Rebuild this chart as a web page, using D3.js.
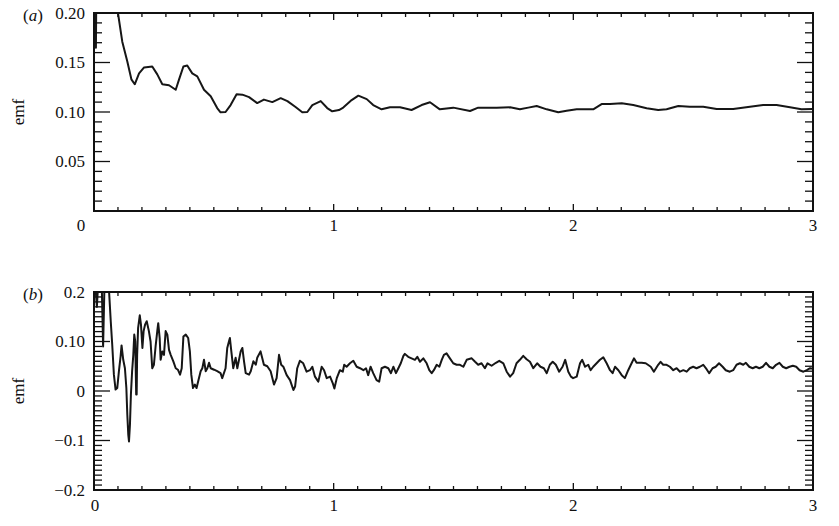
<!DOCTYPE html>
<html><head><meta charset="utf-8">
<script src="https://cdn.jsdelivr.net/npm/d3@7"></script>
<style>
body{margin:0;background:#fff}
svg text{font-family:"Liberation Serif","Times New Roman",Times,serif;fill:#111}
</style>
</head><body>
<svg id="c" width="839" height="526"></svg>
<script>
// ---- data (time, emf) ----
const panelATime = [0.004,0.008,0.012,0.05,0.100,0.118,0.139,0.156,0.170,0.188,0.209,0.243,0.264,0.285,0.313,0.341,0.355,0.373,0.389,0.410,0.431,0.459,0.487,0.514,0.528,0.549,0.570,0.595,0.619,0.647,0.681,0.709,0.744,0.779,0.807,0.841,0.869,0.890,0.911,0.946,0.973,0.994,1.022,1.040,1.075,1.103,1.138,1.165,1.200,1.235,1.277,1.325,1.367,1.402,1.443,1.499,1.569,1.603,1.680,1.736,1.777,1.812,1.847,1.889,1.937,1.972,2.014,2.083,2.118,2.153,2.202,2.250,2.306,2.354,2.389,2.438,2.486,2.542,2.598,2.667,2.737,2.792,2.848,2.904,2.952,3.0];
const panelAEmf  = [0.30,0.165,0.30,0.36,0.200,0.171,0.151,0.133,0.128,0.139,0.145,0.146,0.138,0.128,0.127,0.1225,0.133,0.146,0.147,0.139,0.136,0.1225,0.116,0.104,0.0997,0.100,0.107,0.118,0.1175,0.115,0.109,0.1125,0.110,0.114,0.111,0.105,0.0997,0.100,0.107,0.111,0.104,0.1007,0.102,0.1045,0.112,0.1165,0.113,0.107,0.1027,0.1047,0.1047,0.102,0.107,0.1098,0.1027,0.1044,0.101,0.1044,0.1044,0.1047,0.1027,0.1044,0.106,0.1027,0.0997,0.1013,0.1027,0.1027,0.108,0.108,0.1088,0.107,0.1037,0.102,0.1027,0.106,0.1054,0.1054,0.103,0.103,0.1054,0.107,0.107,0.1047,0.1027,0.103];

const panelBPoints = [[0.000,0.25],[0.012,0.17],[0.020,0.24],[0.033,0.20],[0.038,0.09],[0.044,0.22],[0.055,0.25],[0.063,0.20],[0.070,0.14],[0.076,0.094],[0.083,0.033],[0.090,0.003],[0.097,0.006],[0.104,0.040],[0.111,0.070],[0.115,0.092],[0.122,0.063],[0.129,0.046],[0.135,0.006],[0.139,-0.048],[0.143,-0.088],[0.146,-0.102],[0.150,-0.068],[0.154,-0.007],[0.159,0.040],[0.164,0.073],[0.168,0.114],[0.172,0.100],[0.176,-0.007],[0.178,-0.007],[0.180,0.073],[0.184,0.127],[0.191,0.153],[0.196,0.134],[0.202,0.087],[0.207,0.121],[0.213,0.134],[0.220,0.141],[0.229,0.121],[0.236,0.100],[0.243,0.046],[0.250,0.053],[0.257,0.090],[0.264,0.121],[0.268,0.137],[0.274,0.107],[0.278,0.063],[0.285,0.080],[0.292,0.073],[0.299,0.121],[0.306,0.114],[0.313,0.083],[0.320,0.073],[0.331,0.060],[0.341,0.046],[0.350,0.043],[0.359,0.033],[0.366,0.046],[0.373,0.110],[0.383,0.114],[0.393,0.107],[0.400,0.080],[0.406,0.033],[0.413,0.006],[0.421,0.013],[0.428,0.006],[0.435,0.020],[0.445,0.040],[0.452,0.046],[0.459,0.063],[0.466,0.040],[0.473,0.046],[0.480,0.057],[0.487,0.046],[0.501,0.043],[0.514,0.040],[0.528,0.036],[0.535,0.026],[0.549,0.046],[0.556,0.087],[0.563,0.100],[0.567,0.107],[0.573,0.080],[0.581,0.046],[0.591,0.067],[0.598,0.046],[0.612,0.080],[0.619,0.087],[0.626,0.060],[0.633,0.036],[0.647,0.033],[0.654,0.040],[0.665,0.060],[0.675,0.053],[0.681,0.067],[0.695,0.080],[0.709,0.053],[0.723,0.050],[0.737,0.040],[0.751,0.013],[0.762,0.026],[0.772,0.073],[0.781,0.053],[0.790,0.049],[0.804,0.032],[0.818,0.022],[0.832,0.002],[0.839,0.009],[0.848,0.046],[0.859,0.061],[0.873,0.056],[0.887,0.039],[0.901,0.042],[0.911,0.049],[0.922,0.029],[0.936,0.019],[0.950,0.049],[0.960,0.042],[0.971,0.026],[0.985,0.029],[0.996,0.016],[1.003,0.005],[1.013,0.026],[1.026,0.042],[1.038,0.039],[1.044,0.053],[1.054,0.049],[1.068,0.056],[1.082,0.061],[1.096,0.049],[1.110,0.046],[1.124,0.042],[1.135,0.046],[1.144,0.032],[1.154,0.049],[1.165,0.036],[1.179,0.022],[1.190,0.019],[1.200,0.046],[1.214,0.049],[1.228,0.046],[1.239,0.036],[1.249,0.049],[1.260,0.036],[1.270,0.046],[1.280,0.056],[1.291,0.071],[1.297,0.075],[1.311,0.069],[1.325,0.066],[1.339,0.063],[1.349,0.069],[1.360,0.059],[1.374,0.066],[1.388,0.056],[1.399,0.042],[1.409,0.036],[1.418,0.042],[1.430,0.053],[1.441,0.049],[1.451,0.063],[1.460,0.073],[1.471,0.076],[1.485,0.066],[1.499,0.056],[1.513,0.053],[1.527,0.053],[1.541,0.049],[1.555,0.063],[1.576,0.066],[1.590,0.059],[1.603,0.053],[1.617,0.056],[1.631,0.046],[1.642,0.056],[1.659,0.051],[1.677,0.057],[1.691,0.061],[1.708,0.056],[1.722,0.039],[1.736,0.029],[1.749,0.036],[1.763,0.056],[1.777,0.063],[1.791,0.071],[1.805,0.064],[1.819,0.059],[1.833,0.046],[1.849,0.056],[1.863,0.049],[1.877,0.046],[1.889,0.036],[1.902,0.053],[1.914,0.059],[1.927,0.053],[1.941,0.039],[1.955,0.049],[1.966,0.063],[1.979,0.039],[1.990,0.029],[1.999,0.026],[2.014,0.029],[2.028,0.056],[2.037,0.063],[2.049,0.049],[2.062,0.053],[2.072,0.042],[2.083,0.049],[2.097,0.056],[2.111,0.063],[2.125,0.068],[2.139,0.056],[2.153,0.042],[2.164,0.036],[2.174,0.049],[2.188,0.042],[2.202,0.032],[2.215,0.026],[2.229,0.042],[2.243,0.056],[2.253,0.066],[2.264,0.057],[2.285,0.057],[2.302,0.056],[2.323,0.049],[2.336,0.039],[2.354,0.053],[2.364,0.059],[2.375,0.053],[2.389,0.053],[2.403,0.049],[2.417,0.042],[2.431,0.046],[2.445,0.039],[2.459,0.042],[2.473,0.039],[2.486,0.046],[2.500,0.049],[2.514,0.046],[2.528,0.049],[2.542,0.053],[2.556,0.044],[2.567,0.036],[2.581,0.046],[2.594,0.049],[2.608,0.056],[2.623,0.049],[2.636,0.042],[2.653,0.039],[2.667,0.042],[2.681,0.053],[2.695,0.056],[2.709,0.053],[2.720,0.057],[2.734,0.049],[2.748,0.046],[2.762,0.049],[2.776,0.046],[2.790,0.049],[2.804,0.057],[2.818,0.049],[2.832,0.046],[2.846,0.053],[2.860,0.057],[2.874,0.049],[2.888,0.046],[2.902,0.049],[2.916,0.051],[2.930,0.049],[2.944,0.042],[2.960,0.039],[2.974,0.042],[2.988,0.046],[3.000,0.045]];

const xTickValues = [0,1,2,3];
const xTickLabels = ["0","1","2","3"];
const aYTickValues = [0.05,0.10,0.15,0.20];
const aYTickLabels = ["0.05","0.10","0.15","0.20"];
const bYTickValues = [-0.2,-0.1,0,0.1,0.2];
const bYTickLabels = ["\u22120.2","\u22120.1","0","0.10","0.2"];
const panelLabels = ["a","b"];
const yTitle = "emf";

// ---- drawing ----
const FONT = "'Liberation Serif', 'Times New Roman', Times, serif";
const svg = d3.select("#c");
const L = 94, R = 813;
const x = d3.scaleLinear().domain([0,3]).range([L,R]);

function panel(cfg){
  const y = d3.scaleLinear().domain(cfg.domain).range([cfg.bottom, cfg.top]);
  const g = svg.append("g").attr("font-family", FONT);
  const clipId = "clip" + cfg.id;
  svg.append("clipPath").attr("id", clipId).append("rect")
    .attr("x", L).attr("y", cfg.top).attr("width", R-L).attr("height", cfg.bottom-cfg.top);

  g.append("path").datum(cfg.data)
    .attr("clip-path", `url(#${clipId})`)
    .attr("fill","none").attr("stroke","#161616").attr("stroke-width",2)
    .attr("stroke-linejoin","round")
    .attr("d", d3.line().x(d=>x(d[0])).y(d=>y(d[1])));

  const minorX = d3.range(0, 31).map(i=>+(i*0.1).toFixed(2));
  const nMinY = Math.round((cfg.domain[1]-cfg.domain[0])/0.01);
  const minorY = d3.range(0, nMinY+1).map(i=>+(cfg.domain[0]+i*0.01).toFixed(3));
  const isMajorY = v => Math.abs(v/cfg.majorStep - Math.round(v/cfg.majorStep))<1e-6;
  const isMajorX = v => Math.abs(v - Math.round(v))<1e-6;
  const tk = g.append("g").attr("stroke","#111").attr("stroke-width",1.3);
  minorX.forEach(v=>{
    const len = isMajorX(v) ? 7 : 4;
    tk.append("line").attr("x1",x(v)).attr("x2",x(v)).attr("y1",cfg.bottom).attr("y2",cfg.bottom-len);
    tk.append("line").attr("x1",x(v)).attr("x2",x(v)).attr("y1",cfg.top).attr("y2",cfg.top+len);
  });
  minorY.forEach(v=>{
    const len = isMajorY(v) ? 16 : 8;
    tk.append("line").attr("y1",y(v)).attr("y2",y(v)).attr("x1",L).attr("x2",L+len);
    tk.append("line").attr("y1",y(v)).attr("y2",y(v)).attr("x1",R).attr("x2",R-len);
  });

  g.append("rect").attr("x",L).attr("y",cfg.top).attr("width",R-L).attr("height",cfg.bottom-cfg.top)
    .attr("fill","none").attr("stroke","#111").attr("stroke-width",2);

  g.selectAll(".yl").data(cfg.yTicks).enter().append("text")
    .attr("x", 85).attr("y", d=>y(d)).attr("dy","0.35em")
    .attr("text-anchor","end").attr("font-size",17)
    .text((d,i)=>cfg.yLabels[i]);

  g.selectAll(".xl").data(xTickValues).enter().append("text")
    .attr("x", d=> d===0 ? x(d)+cfg.zeroDx : x(d))
    .attr("y", cfg.xLabelY).attr("dy","0.35em")
    .attr("text-anchor","middle").attr("font-size",17)
    .text((d,i)=>xTickLabels[i]);

  const mid = (cfg.top+cfg.bottom)/2;
  g.append("text").attr("transform",`translate(18,${mid}) rotate(-90)`)
    .attr("dy","0.35em").attr("text-anchor","middle").attr("font-size",17).text(yTitle);

  const pl = g.append("text").attr("x",33).attr("y",cfg.top+2).attr("dy","0.35em")
    .attr("text-anchor","middle").attr("font-size",17);
  pl.append("tspan").text("(");
  pl.append("tspan").attr("font-style","italic").text(cfg.label);
  pl.append("tspan").text(")");
}

panel({id:"a", top:13, bottom:211, domain:[0,0.2], majorStep:0.05,
  data: panelATime.map((t,i)=>[t,panelAEmf[i]]),
  yTicks:aYTickValues, yLabels:aYTickLabels, xLabelY:225, zeroDx:-13, label:panelLabels[0]});
panel({id:"b", top:292, bottom:490, domain:[-0.2,0.2], majorStep:0.1,
  data: panelBPoints,
  yTicks:bYTickValues, yLabels:bYTickLabels, xLabelY:505, zeroDx:1, label:panelLabels[1]});
</script>
</body></html>
